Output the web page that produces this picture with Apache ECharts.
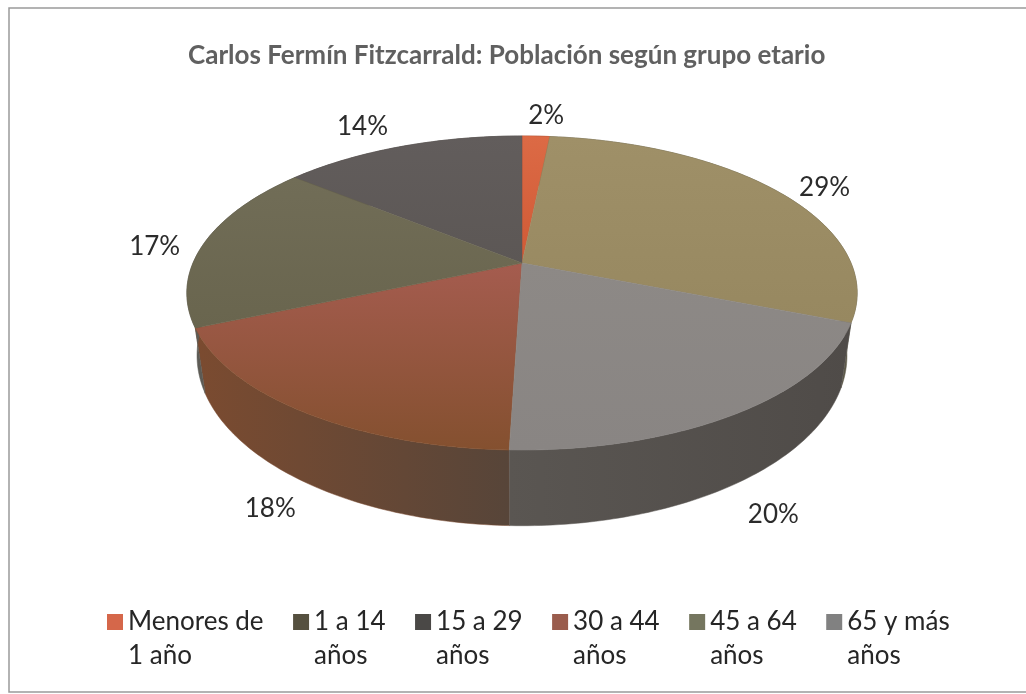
<!DOCTYPE html>
<html>
<head>
<meta charset="utf-8">
<title>Población según grupo etario</title>
<script src="https://cdn.jsdelivr.net/npm/echarts@6/dist/echarts.min.js"></script>
<style>
    html, body { margin: 0; padding: 0; background: #fff; }
    #chart { width: 1026px; height: 694px; }
</style>
</head>
<body>
<div id="chart"></div>
<script>
let titleText = 'Carlos Fermín Fitzcarrald: Población según grupo etario';
let categories = ['Menores de\n1 año', '1 a 14\naños', '15 a 29\naños', '30 a 44\naños', '45 a 64\naños', '65 y más\naños'];
// order of the slices clockwise from 12 o'clock
let sliceOrder = [0, 1, 5, 3, 4, 2];
// percentages, by category
let values = [1.6, 29.4, 14.1, 18, 17.4, 19.5];
let legendColors = ['#d5674a', '#55503f', '#4a4846', '#9a5c4d', '#75765f', '#818181'];
let topColors = [
    ['#dc6a45', '#d05a36'],
    ['#9f9068', '#978860'],
    ['#625d5c', '#5c5755'],
    ['#a55c4f', '#84502f'],
    ['#716d57', '#69654e'],
    ['#8d8986', '#898583']
];
let wallColors = [
    ['#8a4a30', '#8a4a30'],
    ['#5e5a4a', '#5e5a4a'],
    ['#4c4846', '#4c4846'],
    ['#7b4b30', '#574539'],
    ['#5d5b55', '#5d5b55'],
    ['#5a5652', '#4f4b48']
];
let labelNudge = [[8, 0], [6, 8], [-20, -1], [3, -1], [1, 7], [2, 3]];

// perspective of the tilted disc
const top_ = { cx: 522, cy: 263, rx: 329, ry: 151.3 };
const bottom_ = { cx: 522, cy: 323, rx: 319, ry: 164 };
const persp = 0.191;

function rim(disc, pct) {
    let a = pct / 100 * Math.PI * 2;
    let s = 1 / (1 + persp * Math.cos(a));
    return [disc.cx + disc.rx * Math.sin(a) * s, disc.cy - disc.ry * Math.cos(a) * s];
}

function arc(disc, from, to) {
    let pts = [];
    let n = Math.max(2, Math.ceil((to - from) * 4));
    for (let i = 0; i <= n; i++) {
        pts.push(rim(disc, from + (to - from) * i / n));
    }
    return pts;
}

function gradient(c, horizontal) {
    return new echarts.graphic.LinearGradient(0, 0, horizontal ? 1 : 0, horizontal ? 0 : 1, [
        { offset: 0, color: c[0] },
        { offset: 1, color: c[1] }
    ]);
}

function renderWall(params, api) {
    let from = api.value(0), to = api.value(1);
    let idx = params.seriesIndex;
    let pts = arc(top_, from, to).concat(arc(bottom_, from, to).reverse());
    return {
        type: 'polygon',
        shape: { points: pts },
        style: { fill: gradient(wallColors[idx], true), stroke: wallColors[idx][0], lineWidth: 0.5 }
    };
}

function renderTop(params, api) {
    let from = api.value(0), to = api.value(1);
    let idx = params.seriesIndex - categories.length;
    let pts = [[top_.cx, top_.cy]].concat(arc(top_, from, to));
    let mid = rim(top_, (from + to) / 2);
    let front = Math.cos((from + to) / 100 * Math.PI) < -0.5;
    let nudge = labelNudge[idx];
    return {
        type: 'group',
        children: [
            {
                type: 'polygon',
                shape: { points: pts },
                style: { fill: gradient(topColors[idx], false), stroke: topColors[idx][1], lineWidth: 0.5 }
            },
            {
                type: 'text',
                z2: 50,
                style: {
                    x: top_.cx + (mid[0] - top_.cx) * 1.16 + nudge[0],
                    y: top_.cy + (mid[1] - top_.cy) * 1.16 + (front ? 74 : 0) + nudge[1],
                    text: Math.round(api.value(2)) + '%',
                    fill: '#2b2b2b',
                    font: '26px Lato',
                    align: 'center',
                    verticalAlign: 'middle'
                }
            }
        ]
    };
}

let start = {};
let acc = 0;
for (let c of sliceOrder) {
    start[c] = acc;
    acc += values[c];
}

let wallSeries = categories.map(function (name, i) {
    return {
        type: 'custom',
        name: name,
        coordinateSystem: 'none',
        z: 2,
        silent: true,
        itemStyle: { color: legendColors[i] },
        renderItem: renderWall,
        data: [[start[i], start[i] + values[i], values[i]]]
    };
});
let topSeries = categories.map(function (name, i) {
    return {
        type: 'custom',
        name: name,
        coordinateSystem: 'none',
        z: 3,
        silent: true,
        itemStyle: { color: legendColors[i] },
        renderItem: renderTop,
        data: [[start[i], start[i] + values[i], values[i]]]
    };
});

let option = {
    backgroundColor: '#fff',
    animation: false,
    title: {
        text: titleText,
        left: 183,
        top: 38,
        textStyle: { fontFamily: 'Lato', fontWeight: 'bold', fontSize: 26, color: '#606060' }
    },
    legend: {
        data: categories,
        icon: 'rect',
        left: 107,
        top: 571,
        padding: 0,
        itemWidth: 16,
        itemHeight: 16,
        itemGap: 29.5,
        selectedMode: false,
        // blank first line keeps the swatch level with the first line of text
        formatter: function (name) {
            return '\u00a0\n' + name;
        },
        textStyle: { fontFamily: 'Lato', fontSize: 26, color: '#262626', lineHeight: 34 }
    },
    graphic: [{
        type: 'rect',
        silent: true,
        shape: { x: 9, y: 8, width: 1030, height: 684 },
        style: { fill: 'none', stroke: '#9a9a9a', lineWidth: 1.5 }
    }],
    series: wallSeries.concat(topSeries)
};

let chart = echarts.init(document.getElementById('chart'));
chart.setOption(option);
</script>
</body>
</html>
